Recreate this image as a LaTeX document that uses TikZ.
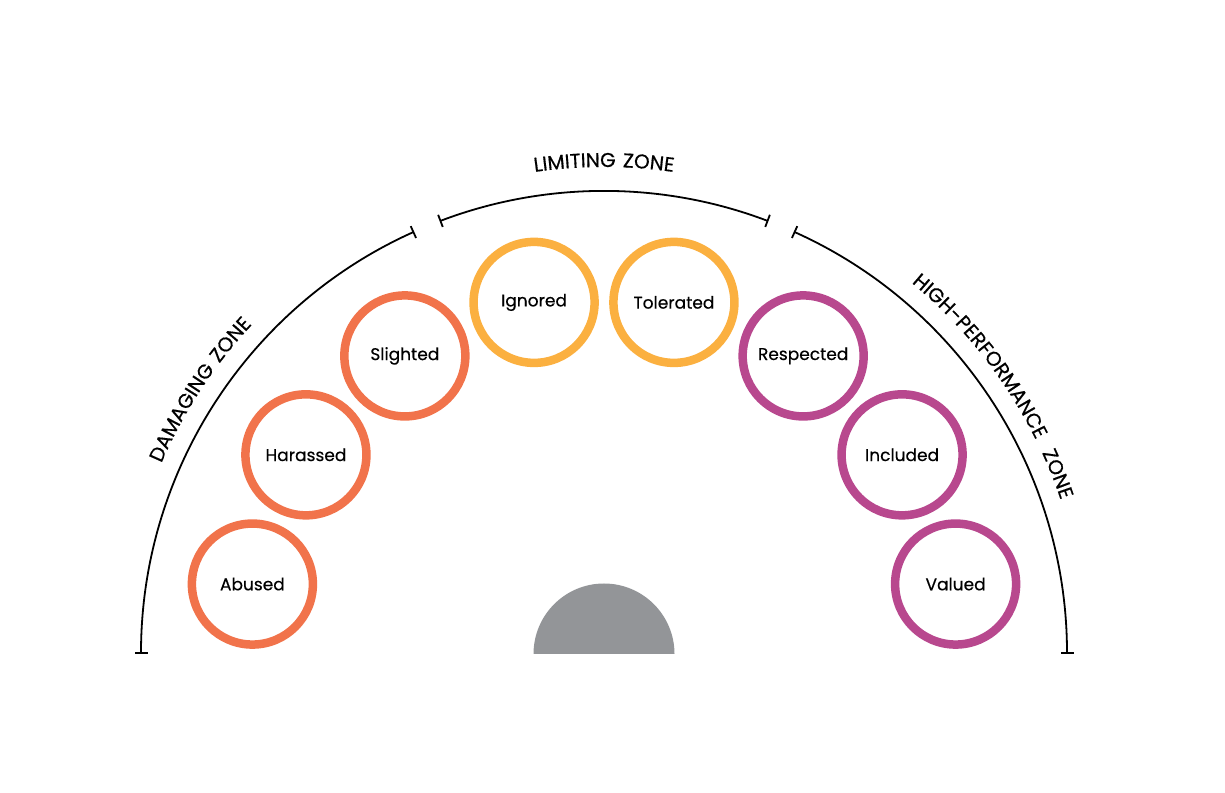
\documentclass[tikz,border=0pt]{standalone}
\usepackage{fontspec}
\setmainfont[FakeBold = 0.5, AutoFakeBold = 0]{Poppins}
\newfontfamily\ringfamily[FakeBold = 0.4]{Poppins}
\newfontfamily\zonefamily[LetterSpace = 9, FakeBold = 0.5]{Poppins}
\usetikzlibrary{arrows.meta,decorations.text}

\newcommand{\ringfont}{\ringfamily\fontsize{17}{19}\selectfont}
\newcommand{\zonefont}{\zonefamily\fontsize{20}{22}\selectfont}

\tikzset{
  ring/.style = {circle, line width = 8.5pt, minimum size = 121pt, inner sep = 0pt, text = black, font = \ringfont},
  zone/.style = {line width = 1.8pt, {Bar[width = 13pt]}-{Bar[width = 13pt]}},
  zonelabel/.style = {decorate, decoration = {text along path, text align = center, text = {#1}}}
}

\begin{document}
\begin{tikzpicture}[x = 1pt, y = 1pt]
\useasboundingbox (0, 0) rectangle (1225, 792);
\definecolor{dmg}{HTML}{F1734B}
\definecolor{lim}{HTML}{FBB040}
\definecolor{hip}{HTML}{B8488E}
\definecolor{base}{HTML}{939598}
\coordinate (c) at (604, 138);
% the three zones
\draw[zone, shift = {(c)}] (180:463) arc[start angle = 180, end angle = 114.2, radius = 463];
\draw[zone, shift = {(c)}] (110.8:463) arc[start angle = 110.8, end angle = 69.2, radius = 463];
\draw[zone, shift = {(c)}] (65.8:463) arc[start angle = 65.8, end angle = 0, radius = 463];
\path[zonelabel = {|\zonefont|DAMAGING ZONE}, shift = {(c)}] (171.8:482) arc[start angle = 171.8, end angle = 121.8, radius = 482];
\path[zonelabel = {|\zonefont|LIMITING ZONE}, shift = {(c)}] (115:487) arc[start angle = 115, end angle = 65, radius = 487];
\path[zonelabel = {|\zonefont|HIGH-PERFORMANCE {\ }ZONE}, shift = {(c)}] (60:482) arc[start angle = 60, end angle = 9, radius = 482];
% rings
\node[ring, draw = dmg] (abused) at ([shift = {(168.75:358.5)}]c) {Abused};
\node[ring, draw = dmg] (harassed) at ([shift = {(146.25:358.5)}]c) {Harassed};
\node[ring, draw = dmg] (slighted) at ([shift = {(123.75:358.5)}]c) {Slighted};
\node[ring, draw = lim] (ignored) at ([shift = {(101.25:358.5)}]c) {Ignored};
\node[ring, draw = lim] (tolerated) at ([shift = {(78.75:358.5)}]c) {Tolerated};
\node[ring, draw = hip] (respected) at ([shift = {(56.25:358.5)}]c) {Respected};
\node[ring, draw = hip] (included) at ([shift = {(33.75:358.5)}]c) {Included};
\node[ring, draw = hip] (valued) at ([shift = {(11.25:358.5)}]c) {Valued};
% base
\fill[base] ([shift = {(180:70.5)}]c) arc[start angle = 180, end angle = 0, radius = 70.5] -- cycle;
\end{tikzpicture}
\end{document}
